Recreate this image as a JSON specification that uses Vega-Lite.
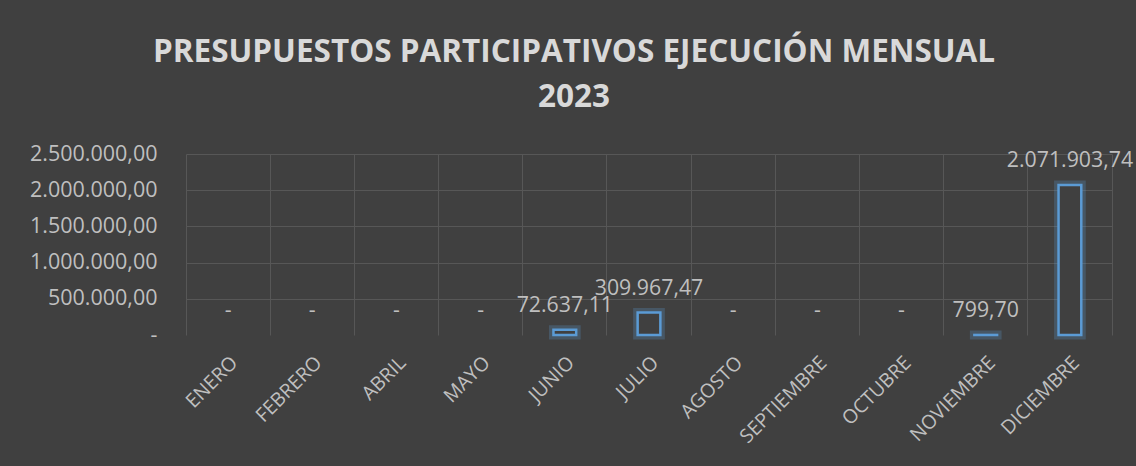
{
  "$schema": "https://vega.github.io/schema/vega-lite/v6.json",
  "autosize": {"type": "none"},
  "width": 926,
  "height": 181,
  "padding": {"left": 186, "top": 154, "right": 24, "bottom": 131},
  "background": "#404040",
  "title": {
    "text": ["PRESUPUESTOS PARTICIPATIVOS EJECUCIÓN MENSUAL", "2023"],
    "font": "Open Sans",
    "fontSize": 31.5,
    "fontWeight": "bold",
    "color": "#d9d9d9",
    "lineHeight": 45,
    "anchor": "middle",
    "dx": -75,
    "offset": 30
  },
  "data": {
    "values": [
      {"mes": "ENERO", "valor": 0},
      {"mes": "FEBRERO", "valor": 0},
      {"mes": "ABRIL", "valor": 0},
      {"mes": "MAYO", "valor": 0},
      {"mes": "JUNIO", "valor": 72637.11},
      {"mes": "JULIO", "valor": 309967.47},
      {"mes": "AGOSTO", "valor": 0},
      {"mes": "SEPTIEMBRE", "valor": 0},
      {"mes": "OCTUBRE", "valor": 0},
      {"mes": "NOVIEMBRE", "valor": 799.70},
      {"mes": "DICIEMBRE", "valor": 2071903.74}
    ]
  },
  "encoding": {
    "x": {
      "field": "mes",
      "type": "nominal",
      "sort": null,
      "scale": {
        "domain": ["ENERO", "FEBRERO", "ABRIL", "MAYO", "JUNIO", "JULIO", "AGOSTO", "SEPTIEMBRE", "OCTUBRE", "NOVIEMBRE", "DICIEMBRE"],
        "paddingInner": 0,
        "paddingOuter": 0
      },
      "axis": {
        "title": null,
        "labelAngle": -45,
        "labelAlign": "right",
        "labelBaseline": "top",
        "labelPadding": 18,
        "labelFont": "Open Sans",
        "labelFontSize": 19.5,
        "labelColor": "#bfbfbf",
        "ticks": false,
        "domain": false,
        "grid": true,
        "bandPosition": 0,
        "gridColor": "#575757",
        "gridWidth": 1
      }
    },
    "y": {
      "field": "valor",
      "type": "quantitative",
      "scale": {"domain": [0, 2500000]}
    }
  },
  "layer": [
    {
      "transform": [{"filter": "datum.valor > 0"}],
      "mark": {"type": "bar", "width": {"band": 0.27}, "fill": "#404040", "stroke": "#5b9bd5", "strokeWidth": 9, "strokeOpacity": 0.25},
      "encoding": {
        "y": {
          "field": "valor",
          "type": "quantitative",
          "scale": {"domain": [0, 2500000]},
          "axis": {
            "title": null,
            "values": [0, 500000, 1000000, 1500000, 2000000, 2500000],
            "format": ",.2f",
            "labelExpr": "datum.value === 0 ? '-' : datum.label",
            "labelFont": "Open Sans",
            "labelFontSize": 21.5,
            "labelColor": "#bfbfbf",
            "labelPadding": 29,
            "ticks": false,
            "domain": false,
            "grid": true,
            "gridColor": {"condition": {"test": "datum.value === 0", "value": "transparent"}, "value": "#575757"},
            "gridWidth": 1
          }
        }
      }
    },
    {
      "transform": [{"filter": "datum.valor > 0"}],
      "mark": {"type": "bar", "width": {"band": 0.27}, "fill": "#404040", "stroke": "#5b9bd5", "strokeWidth": 2.5},
      "encoding": {
        "y": {"field": "valor", "type": "quantitative", "scale": {"domain": [0, 2500000]}, "axis": null}
      }
    },
    {
      "mark": {"type": "text", "font": "Open Sans", "fontSize": 21.3, "color": "#bfbfbf", "baseline": "middle", "dy": -24},
      "encoding": {
        "y": {
          "field": "valor",
          "type": "quantitative",
          "scale": {"domain": [0, 2500000]},
          "axis": {"orient": "right", "title": null, "labels": false, "ticks": false, "grid": false, "domain": true, "domainColor": "#575757", "domainWidth": 1}
        },
        "text": {
          "condition": {"test": "datum.valor === 0", "value": "-"},
          "field": "valor",
          "type": "quantitative",
          "format": ",.2f"
        }
      }
    }
  ],
  "resolve": {"axis": {"y": "independent"}},
  "config": {
    "view": {"stroke": null},
    "locale": {"number": {"decimal": ",", "thousands": ".", "grouping": [3], "currency": ["", " €"]}}
  }
}
